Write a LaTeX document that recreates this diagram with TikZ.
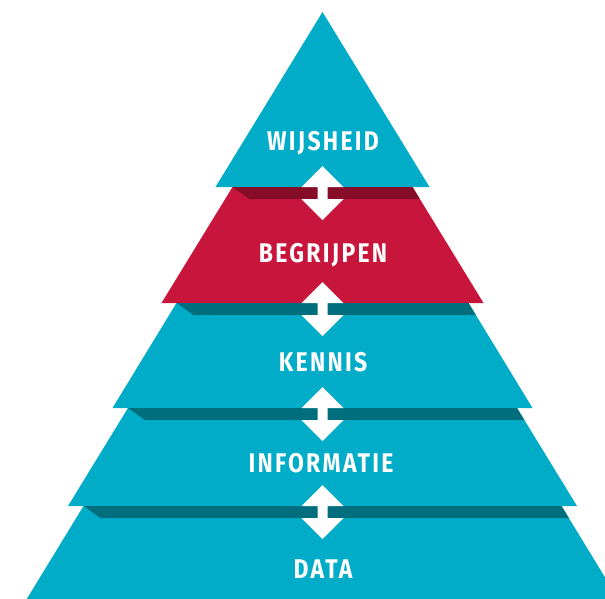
\documentclass[tikz,border=0pt]{standalone}
\usepackage{fontspec}
\newfontfamily\tierfont[LetterSpace=10]{Fira Sans}
\usetikzlibrary{positioning}

\definecolor{pyrteal}{HTML}{00ACC7}
\definecolor{pyrtealdark}{HTML}{006E7D}
\definecolor{pyrred}{HTML}{C8153C}
\definecolor{pyrreddark}{HTML}{860D27}

\tikzset{
  tiertext/.style={text=white, inner sep=0pt, anchor=base,
    font=\tierfont\bfseries\fontsize{27}{27}\selectfont, xscale=0.85},
  updown/.pic={
    \fill[white] (0,-21) -- (21,0) -- (5,0) -- (5,12) -- (21,12) -- (0,33)
      -- (-21,12) -- (-5,12) -- (-5,0) -- (-21,0) -- cycle;
  }
}

\begin{document}
\begin{tikzpicture}[x=1pt, y=-1pt]
    \useasboundingbox (0,0) rectangle (605,598);
    \clip (0,0) rectangle (605,598);

    % Top: wisdom triangle
    \fill[pyrteal] (322.5,12) -- (429.5,187) -- (215.5,187) -- cycle;

    % Second tier (red) with its shadow band
    \fill[pyrred] (232.5,187) -- (412.5,187) -- (483.5,303) -- (161.5,303) -- cycle;
    \fill[pyrreddark] (232.5,187) -- (412.5,187) -- (419.8,199) -- (249.5,199) -- cycle;

    % Third tier
    \fill[pyrteal] (176.5,303) -- (468.5,303) -- (532.5,408) -- (112.5,408) -- cycle;
    \fill[pyrtealdark] (176.5,303) -- (468.5,303) -- (475.8,315) -- (193.5,315) -- cycle;

    % Fourth tier
    \fill[pyrteal] (128,408) -- (517,408) -- (577,506) -- (68,506) -- cycle;
    \fill[pyrtealdark] (128,408) -- (517,408) -- (524.3,420) -- (145,420) -- cycle;

    % Bottom tier, runs off the page
    \fill[pyrteal] (83.5,506) -- (561.5,506) -- (631,620) -- (14,620) -- cycle;
    \fill[pyrtealdark] (83.5,506) -- (561.5,506) -- (568.8,518) -- (100.5,518) -- cycle;

    % Double arrows between the tiers
    \pic at (322.5,187) {updown};
    \pic at (322.5,303) {updown};
    \pic at (322.5,408) {updown};
    \pic at (322.5,506) {updown};

    % Tier names
    \node[tiertext] (wijsheid) at (323,150) {WIJSHEID};
    \node[tiertext] (begrijpen) at (323,262) {BEGRIJPEN};
    \node[tiertext] (kennis) at (323,371) {KENNIS};
    \node[tiertext] (informatie) at (321,472) {INFORMATIE};
    \node[tiertext] (data) at (323,578) {DATA};
\end{tikzpicture}
\end{document}
